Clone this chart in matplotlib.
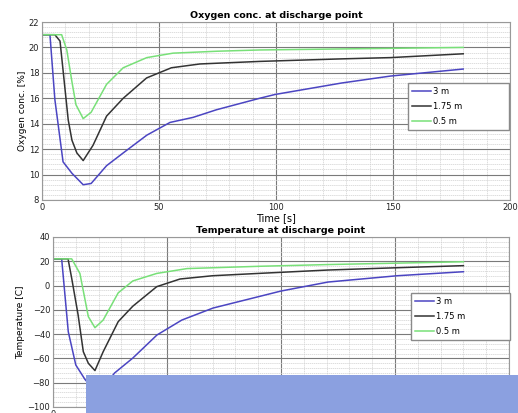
import matplotlib
matplotlib.use('agg')
import matplotlib.pyplot as plt
from matplotlib.ticker import MultipleLocator
from matplotlib.patches import Rectangle

# oxygen concentration [%] vs time [s]
t_o2_3m = [0, 3.4, 5.5, 9, 12.8, 17.6, 21, 27.6, 34.7, 44.8, 54.7, 64.6, 74.6, 93, 99.6, 128, 149, 180]
o2_3m = [21, 21, 15.9, 11, 10.1, 9.2, 9.3, 10.7, 11.7, 13.1, 14.1, 14.5, 15.1, 16.0, 16.3, 17.2, 17.75, 18.3]
t_o2_175 = [0, 5.5, 7.7, 9, 11.2, 12.8, 14.9, 17.6, 21.8, 27.6, 34.7, 44.7, 55.3, 67.5, 93, 128, 149, 180]
o2_175 = [21, 21, 20.5, 18.2, 14.3, 12.7, 11.7, 11.1, 12.3, 14.6, 16.0, 17.6, 18.4, 18.7, 18.9, 19.1, 19.2, 19.5]
t_o2_05 = [0, 8.4, 10.6, 12.7, 14.5, 17.6, 21, 27.6, 34.7, 44.8, 56, 74.6, 93, 180]
o2_05 = [21, 21, 19.8, 17.4, 15.5, 14.4, 14.9, 17.1, 18.4, 19.2, 19.55, 19.7, 19.8, 20.0]

# temperature [C] vs time [s]
t_T_3m = [0, 3.8, 6.7, 10, 14, 18, 22, 27, 35, 45.6, 56.5, 70.2, 90, 100, 120.6, 151, 180]
T_3m = [22, 22, -38, -65.4, -77.2, -86, -84, -72, -59.7, -40.7, -28.4, -18.5, -9.2, -4.5, 2.9, 8.1, 11.4]
t_T_175 = [0, 6.6, 8.2, 11, 13.3, 15.5, 18.4, 22, 28.6, 35, 45.5, 55.7, 70, 90, 120.6, 151, 180]
T_175 = [22, 22, 6, -24, -54.5, -64, -70, -54.5, -29.7, -17, -0.9, 5.4, 8.1, 10, 12.8, 14.7, 16.4]
t_T_05 = [0, 8.2, 11.8, 15.5, 18.4, 22, 28.6, 35, 45.5, 58.8, 90.8, 120.6, 180]
T_05 = [22, 22, 10, -25.6, -34.7, -28.4, -6, 3.8, 10, 14, 15.9, 17.3, 19.6]

labels = ['3 m', '1.75 m', '0.5 m']
colors = ['#4b45c2', '#333333', '#78e078']

plt.rcParams['font.family'] = 'DejaVu Sans'
plt.rcParams['font.size'] = 6

W, H = 518, 413
fig = plt.figure(figsize=(W / 100, H / 100), dpi=100)


def px_axes(x0, y0, x1, y1):
    return fig.add_axes([x0 / W, 1 - y1 / H, (x1 - x0) / W, (y1 - y0) / H])


def style(ax, ymaj, ymin):
    ax.set_xlim(0, 200)
    ax.xaxis.set_major_locator(MultipleLocator(50))
    ax.xaxis.set_minor_locator(MultipleLocator(10))
    ax.yaxis.set_major_locator(MultipleLocator(ymaj))
    ax.yaxis.set_minor_locator(MultipleLocator(ymin))
    ax.grid(which='major', color='#7a7a7a', lw=0.8)
    ax.grid(which='minor', color='#d0d0d0', lw=0.5, ls=(0, (2, 1)))
    ax.tick_params(which='both', length=0, pad=2, labelsize=6, colors='#222222')
    for s in ax.spines.values():
        s.set_color('#999999')
        s.set_linewidth(0.8)
    ax.set_axisbelow(True)


def add_legend(ax, box):
    ax.legend(loc='lower left', bbox_to_anchor=box, mode='expand', fontsize=6, frameon=True,
              fancybox=False, edgecolor='#8a8a8a', framealpha=1, handlelength=2.3,
              borderpad=0.45, labelspacing=0.75, handletextpad=0.2, borderaxespad=0)


ax1 = px_axes(42, 22, 510, 200)
for tt, vv, lab, c in zip([t_o2_3m, t_o2_175, t_o2_05], [o2_3m, o2_175, o2_05], labels, colors):
    ax1.plot(tt, vv, color=c, lw=1.1, label=lab)
ax1.set_ylim(8, 22)
style(ax1, 2, 0.4)
ax1.set_title('Oxygen conc. at discharge point', fontsize=6.8, fontweight='bold', pad=3)
ax1.set_xlabel('Time [s]', fontsize=7, labelpad=1)
ax1.set_ylabel('Oxygen conc. [%]', fontsize=6.5, labelpad=1)
add_legend(ax1, (0.782, 0.393, 0.216, 0.23))

ax2 = px_axes(53, 237, 509, 407)
for tt, vv, lab, c in zip([t_T_3m, t_T_175, t_T_05], [T_3m, T_175, T_05], labels, colors):
    ax2.plot(tt, vv, color=c, lw=1.1, label=lab)
ax2.set_ylim(-100, 40)
style(ax2, 20, 4)
ax2.set_title('Temperature at discharge point', fontsize=6.8, fontweight='bold', pad=3)
ax2.set_ylabel('Temperature [C]', fontsize=6.5, labelpad=2)
add_legend(ax2, (0.785, 0.394, 0.217, 0.224))

# blue overlay band at the bottom of the screenshot
fig.patches.append(Rectangle((86 / W, 0), 1 - 86 / W, 38 / H, transform=fig.transFigure,
                             facecolor='#8ba0e0', edgecolor='none', zorder=10))

fig.savefig('out.png', dpi=100)
